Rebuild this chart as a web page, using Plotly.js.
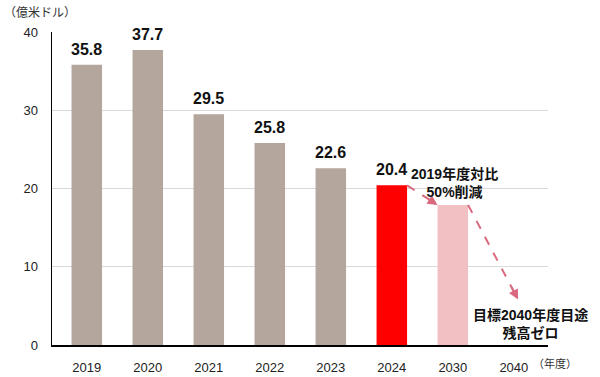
<!DOCTYPE html>
<html><head><meta charset="utf-8">
<script src="https://cdn.plot.ly/plotly-3.0.1.min.js"></script>
<style>body{margin:0;background:#fff}#c{width:600px;height:377px}</style>
</head><body><div id="c"></div>
<script>
const years = ['2019','2020','2021','2022','2023','2024','2030','2040'];
const values = [35.8, 37.7, 29.5, 25.8, 22.6, 20.4, 17.9, 0];
const labels = ['35.8','37.7','29.5','25.8','22.6','20.4','',''];
const colors = ['#b4a69d','#b4a69d','#b4a69d','#b4a69d','#b4a69d','#ff0000','#f2bfc2','#f2bfc2'];
const note1 = '2019年度対比<br>50%削減';
const note2 = '目標2040年度目途<br>残高ゼロ';
const arrowEndValue = 5.8;

const F = 'Liberation Sans, Arial, Noto Sans CJK JP, sans-serif';
const barW = 0.5;
const i24 = years.indexOf('2024'), i30 = years.indexOf('2030'), i40 = years.indexOf('2040');

const trace = {
  type:'bar', x: years.map((_,i)=>i), y: values, width: barW,
  marker:{color: colors}, hoverinfo:'skip'
};

const ann = [];
labels.forEach((t,i)=>{ if(t) ann.push({x:i, y:values[i], xref:'x', yref:'y', text:'<b>'+t+'</b>',
  showarrow:false, yanchor:'bottom', yshift:5, font:{family:F, size:16, color:'#111'}}); });

const a1 = {x0:i24+barW/2, y0:values[i24], x1:i30-barW/2, y1:values[i30]};
const a2 = {x0:i30+barW/2, y0:values[i30], x1:i40+0.07, y1:arrowEndValue};
const shapes = [a1,a2].map(a=>({type:'line', xref:'x', yref:'y', x0:a.x0, y0:a.y0,
  x1:a.x0+(a.x1-a.x0)*0.9, y1:a.y0+(a.y1-a.y0)*0.9, line:{color:'#d9697f', width:2, dash:'dash'}}));
[a1,a2].forEach(a=>ann.push({x:a.x1, y:a.y1, xref:'x', yref:'y', axref:'x', ayref:'y',
  ax:a.x0+(a.x1-a.x0)*0.85, ay:a.y0+(a.y1-a.y0)*0.85, showarrow:true, arrowhead:2, arrowsize:1,
  arrowwidth:2, arrowcolor:'#d9697f', text:''}));

ann.push({x:(i24+i30)/2+0.53, y:values[i24], xref:'x', yref:'y', text:'<b>'+note1+'</b>', showarrow:false,
  yanchor:'middle', yshift:2, font:{family:F, size:14, color:'#111'}, align:'center'});
ann.push({x:i40+0.27, y:0, xref:'x', yref:'y', text:'<b>'+note2+'</b>', showarrow:false,
  yanchor:'bottom', yshift:2, font:{family:F, size:14, color:'#111'}, align:'center'});
ann.push({x:0, y:1, xref:'paper', yref:'paper', text:'（億米ドル）', showarrow:false,
  xanchor:'left', yanchor:'bottom', xshift:-50, yshift:10, font:{family:F, size:12, color:'#333'}});
ann.push({x:i40, y:0, xref:'x', yref:'y', text:'（年度）', showarrow:false,
  xanchor:'left', yanchor:'top', xshift:17, yshift:-10, font:{family:F, size:11, color:'#333'}});

const layout = {
  width:600, height:377, margin:{l:52, r:52, t:32, b:32},
  paper_bgcolor:'#fff', plot_bgcolor:'#fff', showlegend:false,
  font:{family:F, size:13, color:'#222'},
  xaxis:{range:[-0.57,7.56], tickmode:'array', tickvals:years.map((_,i)=>i), ticktext:years,
    showgrid:false, zeroline:false, showline:true, linecolor:'#000', linewidth:1.5, ticks:'', ticklabelstandoff:10,
    tickfont:{size:13, color:'#222'}, fixedrange:true},
  yaxis:{range:[0,40], dtick:10, showgrid:true, gridcolor:'#d9d9d9', gridwidth:1, zeroline:false,
    showline:true, linecolor:'#000', linewidth:1.5, ticks:'', ticklabelstandoff:10, tickfont:{size:13, color:'#222'}},
  shapes: shapes,
  annotations: ann, bargap:0.5
};
Plotly.newPlot('c',[trace],layout,{displayModeBar:false, staticPlot:true});
</script></body></html>
